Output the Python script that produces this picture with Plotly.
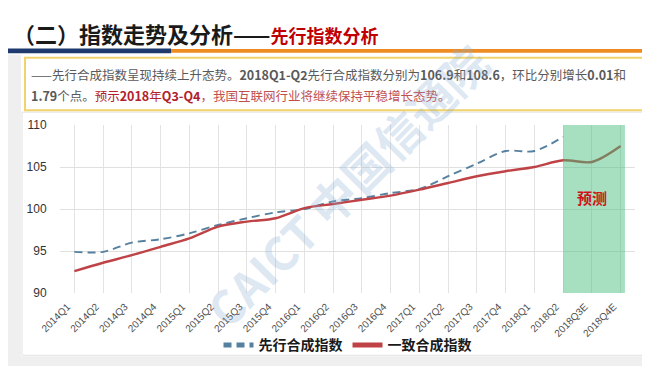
import plotly.graph_objects as go

quarters = ["2014Q1", "2014Q2", "2014Q3", "2014Q4", "2015Q1", "2015Q2", "2015Q3", "2015Q4",
            "2016Q1", "2016Q2", "2016Q3", "2016Q4", "2017Q1", "2017Q2", "2017Q3", "2017Q4",
            "2018Q1", "2018Q2", "2018Q3E", "2018Q4E"]
leading = [94.9, 94.9, 96.0, 96.4, 97.1, 98.1, 98.9, 99.6, 100.0, 100.9,
           101.3, 101.9, 102.4, 103.9, 105.4, 106.9, 106.9, 108.6]
coincident = [92.6, 93.6, 94.5, 95.5, 96.5, 97.9, 98.5, 98.9, 100.1, 100.6,
              101.1, 101.6, 102.3, 103.1, 103.9, 104.5, 105.0, 105.8, 105.6, 107.5]
leading_name = "先行合成指数"
coincident_name = "一致合成指数"
forecast_start = "2018Q2"
forecast_label = "预测"

W, H = 650, 366
L, R, T, B = 52, 627, 117, 287


def px(x):
    return (x - L) / (R - L)


def py(y):
    return (B - y) / (B - T)


CJK = "Noto Sans CJK SC"

fig = go.Figure()
fig.add_trace(go.Scatter(
    x=quarters[:len(leading)], y=leading, name=leading_name, mode="lines",
    line=dict(color="#55809f", width=1.9, dash="8px,5px", shape="spline", smoothing=0.9),
))
fig.add_trace(go.Scatter(
    x=quarters[:len(coincident)], y=coincident, name=coincident_name, mode="lines",
    line=dict(color="#bf4346", width=2.4, shape="spline", smoothing=0.9),
))

shapes = []
# page background strips (hatched area)
for x0, y0, x1, y1 in [(0, 46, 13, H), (637, 46, W, H), (0, 351, W, H)]:
    shapes.append(dict(type="rect", xref="paper", yref="paper", x0=px(x0), x1=px(x1),
                       y0=py(y1), y1=py(y0), fillcolor="#efefef", line=dict(width=0), layer="below"))
# chart card
shapes.append(dict(type="rect", xref="paper", yref="paper", x0=px(14), x1=px(637),
                   y0=py(350), y1=py(104), fillcolor="white", line=dict(color="#e2e2e2", width=1),
                   layer="below"))
# header bars
shapes.append(dict(type="rect", xref="paper", yref="paper", x0=px(0), x1=px(163),
                   y0=py(44.5), y1=py(39.5), fillcolor="#1f3a6e", line=dict(width=0)))
shapes.append(dict(type="rect", xref="paper", yref="paper", x0=px(163), x1=px(W),
                   y0=py(44), y1=py(40), fillcolor="#ee8b22", line=dict(width=0)))
# text box
shapes.append(dict(type="rect", xref="paper", yref="paper", x0=px(17), x1=px(638),
                   y0=py(102), y1=py(49), fillcolor="white", line=dict(color="#f0d36a", width=2),
                   layer="below"))
# forecast band
fi = quarters.index(forecast_start)
shapes.append(dict(type="rect", xref="x", yref="paper", x0=fi, x1=len(quarters) - 1 + 0.15,
                   y0=0, y1=1, fillcolor="rgba(70,190,125,0.48)", line=dict(width=0), layer="above"))

annotations = []
annotations.append(dict(
    xref="paper", yref="paper", x=px(3), y=py(24), xanchor="left", yanchor="middle", showarrow=False,
    text="<b>（二）指数走势及分析——</b><b><span style='color:#c00000;font-size:18px'>先行指数分析</span></b>",
    font=dict(family=CJK, size=22, color="#1a1a1a"),
))
annotations.append(dict(
    xref="paper", yref="paper", x=px(21), y=py(66), xanchor="left", yanchor="middle", showarrow=False,
    text="——先行合成指数呈现持续上升态势。<b>2018Q1-Q2</b>先行合成指数分别为<b>106.9</b>和<b>108.6</b>，环比分别增长<b>0.01</b>和",
    font=dict(family=CJK, size=12.5, color="#595959"),
))
annotations.append(dict(
    xref="paper", yref="paper", x=px(21), y=py(87), xanchor="left", yanchor="middle", showarrow=False,
    text="<b>1.79</b>个点。<span style='color:#b2222c'>预示<b>2018</b>年<b>Q3-Q4</b></span>"
         "<span style='color:#c0504d'>，我国互联网行业将继续保持平稳增长态势。</span>",
    font=dict(family=CJK, size=12.5, color="#595959"),
))
annotations.append(dict(
    xref="x", yref="y", x=quarters.index(forecast_start) + 1, y=101.4, showarrow=False,
    text="<b>" + forecast_label + "</b>", font=dict(family=CJK, size=15, color="#d0101a"),
))
# watermark
annotations.append(dict(
    xref="paper", yref="paper", x=px(338), y=py(178), showarrow=False, textangle=-45,
    text="<b>CAICT 中国信通院</b>", font=dict(family=CJK, size=46, color="rgba(140,175,215,0.3)"),
))

fig.update_layout(
    width=W, height=H, autosize=False,
    margin=dict(l=L, r=W - R, t=T, b=H - B, pad=0),
    paper_bgcolor="white", plot_bgcolor="#f1f1f1",
    font=dict(family="Liberation Sans", color="#404040"),
    shapes=shapes, annotations=annotations,
    showlegend=True,
    legend=dict(orientation="h", x=0.5, xanchor="center", y=py(340), yanchor="middle",
                font=dict(family=CJK, size=14, color="#1a1a1a", weight="bold"),
                itemwidth=30, bgcolor="rgba(0,0,0,0)", itemsizing="constant"),
    xaxis=dict(type="category", categoryorder="array", categoryarray=quarters,
               range=[-0.5, len(quarters) - 0.5], tickangle=-45,
               tickfont=dict(size=10, color="#505050"), showgrid=True, gridcolor="#e3e3e3",
               gridwidth=1, zeroline=False, showline=False, ticks="outside", ticklen=3,
               tickcolor="rgba(0,0,0,0)", ticklabelshift=-7),
    yaxis=dict(range=[90, 110], dtick=5, tickfont=dict(size=12, color="#333333"),
               showgrid=True, gridcolor="#e0e0e0", zeroline=False, showline=False,
               ticks="outside", ticklen=10, tickcolor="rgba(0,0,0,0)"),
)

fig.write_html("out.html")
